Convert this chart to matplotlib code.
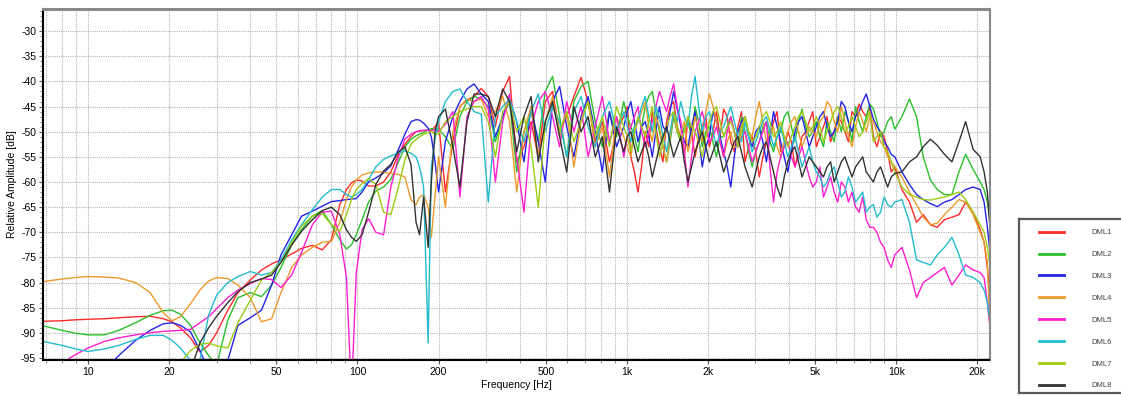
import numpy as np
import matplotlib
matplotlib.use("Agg")
from matplotlib import pyplot as plt

plt.rcParams['font.family'] = ['Liberation Sans', 'DejaVu Sans']

# frequency grid (Hz): low band, main band, top band
freq_low = [6.8, 8, 9, 10, 11.5, 13, 15, 17, 19, 20.5, 22, 24, 26, 28, 30, 33, 36, 40, 44, 48,
            52, 57, 62, 68, 74, 80, 86, 91, 95, 99, 104, 110, 117, 125, 133, 142, 150, 158, 165, 170,
            176, 183, 188, 194]
freq_mid = [200, 212, 226, 240, 255, 271, 288, 306, 325, 346,
            367, 390, 415, 441, 469, 498, 530, 563, 598, 636,
            676, 718, 763, 811, 862, 916, 974, 1035, 1100, 1170,
            1243, 1321, 1404, 1492, 1586, 1686, 1792, 1905, 2025, 2152,
            2287, 2431, 2584, 2746, 2919, 3102, 3297, 3504, 3725, 3959,
            4208, 4472, 4753, 5052, 5370, 5707, 6066, 6447, 6853, 7284,
            7741, 8228, 8745, 9295, 9880]
freq_high = [10500, 11200, 11900, 12600, 13400, 14200, 15100, 16100, 17100, 18100,
             19300, 20500, 21200, 21800, 22200]
# extra points in between, 1 kHz - 10 kHz
freq_fill = [1004, 1067, 1134, 1206, 1281, 1362, 1447, 1538, 1635, 1738,
             1848, 1964, 2088, 2218, 2358, 2506, 2664, 2831, 3009, 3198,
             3399, 3613, 3840, 4082, 4338, 4610, 4900, 5208, 5536, 5884,
             6254, 6647, 7065, 7509, 7981, 8483, 9016, 9583]
freqs = freq_low + freq_mid + freq_high + freq_fill

labels = ['DML1', 'DML2', 'DML3', 'DML4', 'DML5', 'DML6', 'DML7', 'DML8']
colors = ['#ff2a2a', '#2cbf2c', '#2424e8', '#eb9a2c', '#ff1ed2', '#22bccc', '#9ccc14', '#333333']

# relative amplitude (dB)
dml1 = ([-87.7, -87.6, -87.4, -87.3, -87.2, -87.0, -86.8, -86.7, -87.2, -87.8,
         -89.0, -91.0, -93.8, -92.5, -90.0, -85.5, -82.0, -79.5, -77.5, -76.3,
         -75.5, -74.3, -73.2, -72.6, -73.5, -71.5, -64.5, -61.5, -60.2, -59.6,
         -59.8, -60.8, -60.8, -60.0, -58.0, -54.5, -52.5, -51.0, -50.0, -49.9,
         -49.8, -49.7, -49.7, -49.0] +
        [-48.0, -62.0, -52.0, -45.0, -43.7, -43.0, -41.4, -43.0, -49.0, -42.0,
         -39.0, -56.0, -53.0, -48.0, -55.0, -44.0, -42.0, -50.0, -47.0, -43.0,
         -39.2, -44.0, -52.0, -48.0, -56.0, -50.0, -47.0, -55.0, -62.0, -50.0,
         -46.0, -53.0, -48.0, -44.0, -51.0, -47.0, -55.0, -49.0, -53.0, -46.0,
         -45.5, -52.0, -49.0, -56.0, -51.0, -59.0, -52.0, -48.0, -54.0, -50.0,
         -57.0, -51.0, -48.0, -53.0, -49.0, -52.0, -47.0, -50.0, -46.0, -44.5,
         -47.0, -51.0, -50.0, -54.0, -57.0] +
        [-61.5, -64.0, -68.0, -66.5, -68.5, -69.0, -67.5, -67.0, -66.5, -64.0,
         -66.0, -69.5, -72.0, -77.0, -82.0] +
        [-45.0, -58.0, -57.0, -53.0, -49.0, -56.0, -45.0, -49.0, -55.0, -50.0,
         -51.0, -47.0, -50.0, -51.0, -47.0, -54.0, -46.0, -53.0, -54.0, -55.0,
         -51.0, -46.0, -53.0, -52.0, -54.0, -50.0, -46.0, -51.0, -47.0, -50.0,
         -48.0, -52.0, -47.0, -46.0, -45.0, -53.0, -51.0, -58.0])
dml2 = ([-88.6, -89.5, -90.1, -90.4, -90.4, -89.5, -88.0, -86.5, -85.6, -85.5,
         -86.3, -88.5, -92.0, -94.5, -96.5, -87.5, -83.0, -82.0, -82.8, -80.5,
         -77.0, -72.5, -69.5, -66.8, -65.7, -68.5, -71.5, -73.3, -72.5, -70.5,
         -67.5, -64.0, -61.8, -61.0, -59.5, -56.0, -53.0, -51.5, -50.8, -50.5,
         -50.2, -49.6, -49.4, -49.5] +
        [-49.5, -51.0, -53.5, -47.0, -44.0, -43.0, -43.5, -45.0, -52.0, -47.0,
         -44.0, -58.0, -50.0, -46.0, -52.0, -42.0, -39.0, -47.0, -55.0, -44.0,
         -41.0, -40.0, -48.0, -53.0, -46.0, -51.0, -44.0, -49.0, -54.0, -45.0,
         -42.0, -50.0, -56.0, -47.0, -52.0, -48.0, -45.0, -53.0, -49.0, -55.0,
         -51.0, -47.0, -53.0, -50.0, -57.0, -52.0, -48.0, -54.0, -50.0, -46.0,
         -52.0, -45.5, -51.0, -48.0, -53.0, -50.0, -47.0, -46.0, -52.0, -48.0,
         -47.0, -45.5, -51.0, -48.0, -49.5] +
        [-47.0, -43.5, -47.0, -55.0, -59.6, -61.5, -62.5, -62.5, -58.0, -54.5,
         -57.5, -60.0, -61.5, -64.0, -67.0] +
        [-47.0, -51.0, -49.0, -43.0, -46.0, -53.0, -52.0, -50.0, -49.0, -51.0,
         -48.0, -50.0, -52.0, -51.0, -49.0, -50.0, -47.0, -54.0, -54.0, -49.0,
         -52.0, -51.0, -47.0, -49.0, -48.0, -49.0, -50.0, -51.0, -48.0, -52.0,
         -50.0, -48.0, -45.0, -50.0, -44.5, -48.0, -50.0, -47.0])
dml3 = ([-100.0, -100.0, -100.0, -100.0, -97.5, -94.5, -91.5, -89.5, -88.2, -88.0,
         -88.5, -89.8, -93.5, -97.5, -99.0, -95.5, -88.5, -87.0, -85.5, -80.5,
         -74.5, -70.5, -66.8, -65.8, -64.8, -63.9, -63.7, -63.5, -63.4, -63.3,
         -62.0, -60.0, -59.2, -58.2, -56.8, -53.5, -50.5, -48.0, -47.6, -47.7,
         -48.3, -49.3, -51.0, -56.0] +
        [-62.0, -52.0, -47.0, -44.0, -41.5, -40.5, -42.5, -44.0, -51.0, -47.0,
         -43.5, -48.0, -56.0, -45.0, -52.0, -60.0, -44.0, -41.0, -49.0, -55.0,
         -47.0, -43.0, -50.0, -58.0, -46.0, -53.0, -49.0, -44.0, -52.0, -48.0,
         -55.0, -45.0, -50.0, -42.0, -49.0, -53.0, -46.0, -57.0, -51.0, -48.0,
         -54.0, -61.0, -50.0, -47.0, -53.0, -49.0, -56.0, -46.0, -52.0, -58.0,
         -50.0, -47.0, -53.0, -49.0, -46.0, -51.0, -48.0, -45.0, -50.0, -46.0,
         -42.5, -47.5, -50.0, -53.0, -55.0] +
        [-58.0, -60.5, -62.5, -63.5, -64.3, -64.9, -64.0, -63.5, -62.5, -61.5,
         -61.0, -61.5, -64.0, -69.0, -73.0] +
        [-46.0, -48.0, -49.0, -51.0, -50.0, -49.0, -46.0, -45.5, -52.0, -49.0,
         -51.0, -53.0, -46.0, -51.0, -57.0, -55.0, -48.0, -51.0, -50.0, -52.0,
         -51.0, -49.0, -55.0, -54.0, -48.0, -50.0, -51.0, -47.0, -49.0, -50.0,
         -44.0, -48.0, -47.0, -44.0, -45.0, -49.0, -52.0, -54.5])
dml4 = ([-79.8, -79.3, -79.0, -78.8, -78.9, -79.1, -80.0, -82.0, -86.0, -87.6,
         -86.8, -84.2, -81.5, -79.7, -79.0, -79.2, -80.5, -83.0, -87.8, -87.2,
         -82.0, -77.0, -74.5, -73.0, -72.0, -71.8, -68.0, -63.5, -61.0, -59.6,
         -58.6, -58.2, -58.0, -58.1, -58.3, -58.5, -59.0, -63.5, -64.5, -63.0,
         -62.5, -65.0, -71.0, -63.0] +
        [-55.0, -65.0, -50.0, -45.0, -43.5, -44.0, -43.5, -47.0, -46.0, -43.0,
         -48.0, -62.0, -50.0, -45.0, -55.0, -48.0, -43.0, -51.0, -46.0, -57.0,
         -48.0, -44.0, -53.0, -49.0, -59.0, -47.0, -51.0, -55.0, -48.0, -44.0,
         -52.0, -49.0, -56.0, -46.0, -50.0, -54.0, -47.0, -52.0, -42.5, -48.0,
         -55.0, -50.0, -53.0, -47.0, -51.0, -44.0, -52.0, -49.0, -55.0, -50.0,
         -47.0, -53.0, -49.0, -51.0, -47.0, -45.0, -50.0, -48.0, -53.0, -46.0,
         -50.0, -48.0, -52.0, -55.0, -57.0] +
        [-59.0, -62.0, -64.5, -67.0, -68.5, -68.2, -66.5, -65.0, -63.5, -64.0,
         -66.5, -70.0, -72.0, -76.0, -87.0] +
        [-53.0, -50.0, -46.0, -49.0, -47.0, -53.0, -51.0, -50.0, -48.0, -51.0,
         -50.0, -46.0, -45.0, -52.0, -52.0, -53.0, -49.0, -50.0, -47.0, -48.0,
         -50.0, -53.0, -52.0, -48.0, -50.0, -51.0, -50.0, -48.0, -44.0, -48.0,
         -45.0, -51.0, -49.0, -48.0, -47.0, -50.0, -53.0, -56.0])
dml5 = ([-98.0, -96.0, -94.3, -93.0, -91.7, -91.0, -90.4, -90.0, -89.7, -89.6,
         -89.5, -89.3, -88.0, -86.8, -85.2, -83.0, -81.5, -80.2, -79.2, -79.4,
         -81.0, -78.5, -74.0, -68.5, -66.0, -65.8, -70.5, -79.0, -102.0, -78.0,
         -69.5, -67.3, -70.0, -70.5, -61.0, -55.0, -51.5, -50.5, -50.0, -49.8,
         -49.7, -49.7, -50.0, -49.5] +
        [-50.0, -48.5, -46.0, -63.0, -47.0, -44.0, -43.0, -45.5, -60.0, -48.0,
         -42.5, -55.0, -66.0, -49.0, -44.0, -42.0, -47.0, -53.0, -44.0, -50.0,
         -45.0, -55.0, -49.0, -43.0, -52.0, -47.0, -55.0, -49.0, -45.0, -53.0,
         -48.0, -42.0, -46.0, -40.5, -48.0, -61.0, -50.0, -46.0, -52.0, -49.0,
         -55.0, -47.0, -53.0, -50.0, -56.0, -52.0, -48.0, -64.0, -55.0, -52.0,
         -57.0, -53.0, -59.0, -60.0, -63.0, -59.0, -64.0, -61.0, -62.0, -66.0,
         -67.5, -69.0, -72.0, -75.5, -74.5] +
        [-73.0, -77.5, -83.0, -80.0, -79.0, -78.0, -77.0, -80.5, -78.5, -76.5,
         -77.5, -78.0, -79.0, -84.0, -88.0] +
        [-51.0, -47.0, -50.0, -50.0, -45.0, -44.0, -43.0, -45.0, -54.0, -55.0,
         -48.0, -49.0, -51.0, -52.0, -50.0, -50.0, -51.0, -53.0, -54.0, -50.0,
         -57.0, -58.0, -53.0, -55.0, -55.0, -56.0, -61.0, -57.0, -61.0, -62.0,
         -60.0, -64.0, -65.0, -63.0, -69.0, -70.0, -73.0, -77.0])
dml6 = ([-91.7, -92.5, -93.2, -93.7, -93.2, -92.5, -91.3, -90.5, -90.5, -91.5,
         -93.0, -95.5, -95.5, -86.5, -82.5, -80.0, -78.8, -77.8, -78.5, -78.0,
         -75.5, -71.5, -68.5, -65.5, -63.0, -61.5, -61.5, -62.5, -63.0, -62.5,
         -61.5, -59.5, -57.0, -55.5, -54.8, -54.2, -53.8, -54.3, -55.0, -57.0,
         -61.0, -92.0, -57.0, -51.5] +
        [-48.0, -44.0, -42.0, -41.5, -44.0, -46.0, -46.5, -64.0, -47.0, -45.0,
         -43.5, -48.0, -52.0, -46.0, -42.5, -50.0, -45.0, -48.0, -55.0, -46.0,
         -43.0, -49.0, -53.0, -47.0, -44.0, -50.0, -46.0, -52.0, -48.0, -43.0,
         -50.0, -47.0, -54.0, -46.0, -44.0, -49.0, -39.0, -50.0, -46.0, -53.0,
         -49.0, -45.0, -51.0, -48.0, -54.0, -50.0, -47.0, -53.0, -49.0, -55.0,
         -51.0, -57.0, -53.0, -58.0, -61.0, -58.0, -60.0, -62.0, -61.0, -63.0,
         -66.0, -64.5, -66.0, -64.5, -64.0] +
        [-63.5, -68.0, -75.5, -76.0, -76.5, -74.5, -73.0, -71.0, -74.5, -78.5,
         -79.0, -80.0, -81.5, -84.0, -87.0] +
        [-49.0, -49.0, -45.0, -47.0, -45.0, -51.0, -50.0, -48.0, -47.0, -43.0,
         -45.0, -47.0, -50.0, -50.0, -47.0, -48.0, -52.0, -51.0, -52.0, -48.0,
         -50.0, -51.0, -52.0, -53.0, -54.0, -55.0, -56.0, -59.0, -60.0, -57.0,
         -63.0, -59.0, -64.0, -62.0, -65.0, -67.0, -63.0, -65.0])
dml7 = ([-100.0, -100.0, -100.0, -100.0, -100.0, -100.0, -100.0, -100.0, -100.0, -99.0,
         -96.0, -93.5, -92.3, -92.0, -92.6, -93.0, -88.0, -83.5, -79.5, -78.0,
         -76.0, -72.0, -68.8, -66.8, -66.3, -68.5, -69.8, -66.5, -63.5, -61.5,
         -60.3, -59.3, -60.5, -66.0, -66.5, -61.0, -55.5, -52.5, -51.5, -51.0,
         -50.5, -50.2, -50.0, -50.5] +
        [-50.5, -48.0, -47.0, -46.0, -45.5, -45.0, -45.0, -48.0, -55.0, -46.0,
         -44.0, -50.0, -47.0, -53.0, -65.0, -48.0, -44.0, -50.0, -46.0, -52.0,
         -48.0, -44.0, -51.0, -47.0, -53.0, -45.0, -49.0, -54.0, -47.0, -51.0,
         -45.0, -55.0, -49.0, -46.0, -52.0, -47.0, -50.0, -55.0, -48.0, -45.0,
         -51.0, -48.0, -53.0, -47.0, -52.0, -49.0, -46.0, -51.0, -48.0, -53.0,
         -49.0, -46.0, -50.0, -47.0, -52.0, -48.0, -45.0, -50.0, -47.0, -51.0,
         -48.0, -52.0, -50.0, -54.0, -58.0] +
        [-61.0, -62.5, -63.0, -63.5, -63.6, -63.3, -63.0, -62.5, -62.0, -63.5,
         -66.0, -68.5, -70.0, -73.0, -76.0] +
        [-51.0, -50.0, -49.0, -48.0, -50.0, -52.0, -47.0, -49.0, -50.0, -49.0,
         -52.0, -51.0, -46.0, -48.0, -49.0, -50.0, -50.0, -50.0, -51.0, -47.0,
         -48.0, -50.0, -51.0, -51.0, -47.0, -48.0, -49.0, -49.0, -50.0, -46.0,
         -47.0, -49.0, -49.0, -50.0, -46.0, -51.0, -53.0, -56.0])
dml8 = ([-100.0, -100.0, -100.0, -100.0, -100.0, -100.0, -100.0, -100.0, -100.0, -100.0,
         -100.0, -97.5, -92.0, -89.0, -86.7, -84.0, -81.8, -80.0, -79.3, -78.5,
         -76.0, -72.5, -69.8, -67.5, -65.7, -65.0, -66.5, -69.5, -71.0, -71.8,
         -70.5, -66.0, -60.5, -57.8, -56.5, -54.0, -53.0, -56.5, -68.0, -70.5,
         -63.0, -73.0, -60.0, -50.0] +
        [-47.0, -45.5, -53.0, -61.0, -48.0, -42.5, -42.5, -43.0, -47.0, -41.5,
         -44.0, -54.0, -47.0, -43.0, -56.0, -48.0, -44.0, -51.0, -58.0, -45.0,
         -50.0, -47.0, -55.0, -51.0, -62.0, -49.0, -54.0, -50.0, -56.0, -52.0,
         -59.0, -53.0, -49.0, -55.0, -51.0, -60.0, -54.0, -50.0, -56.0, -52.0,
         -58.0, -54.0, -51.0, -57.0, -61.0, -55.0, -52.0, -58.0, -63.0, -56.0,
         -53.0, -59.0, -55.0, -57.0, -59.0, -56.0, -58.0, -55.0, -59.0, -56.0,
         -58.0, -60.0, -57.0, -61.0, -58.3] +
        [-58.0, -56.0, -55.0, -53.0, -51.5, -52.7, -54.5, -56.0, -52.0, -48.0,
         -53.5, -55.0, -58.0, -62.0, -68.0] +
        [-51.0, -53.0, -54.0, -55.0, -56.0, -51.0, -52.0, -53.0, -56.0, -57.0,
         -52.0, -53.0, -54.0, -55.0, -56.0, -52.0, -54.0, -59.0, -58.0, -53.0,
         -55.0, -61.0, -59.0, -54.0, -56.0, -57.0, -56.0, -58.0, -57.0, -60.0,
         -56.0, -57.0, -57.0, -55.0, -59.0, -58.0, -59.0, -59.0])

series = [dml1, dml2, dml3, dml4, dml5, dml6, dml7, dml8]

W, H = 1121, 396
fig = plt.figure(figsize=(W / 100, H / 100), dpi=100)
ax = fig.add_axes([43 / W, 36 / H, (989.5 - 43) / W, (360 - 9) / H])

f_all = np.array(freqs)
order = np.argsort(f_all)
lines = []
for vals, col, lab in zip(series, colors, labels):
    v = np.array(vals)
    ln, = ax.plot(f_all[order], v[order], color=col, lw=1.0, label=lab)
    lines.append(ln)

ax.set_xscale('log')
ax.set_xlim(6.8, 22200)
ax.set_ylim(-95.4, -25.6)

major_x = [10, 20, 50, 100, 200, 500, 1000, 2000, 5000, 10000, 20000]
ax.set_xticks(major_x, ['10', '20', '50', '100', '200', '500', '1k', '2k', '5k', '10k', '20k'])
minor_x = [m * 10 ** d for d in range(0, 5) for m in range(2, 10)]
minor_x = [v for v in minor_x if 6.8 < v < 22200 and v not in major_x]
ax.set_xticks(minor_x, minor=True)
ax.set_xticklabels([], minor=True)

yt = np.arange(-95, -29, 5)
ax.set_yticks(yt, [f'{v}' for v in yt])
ax.set_yticks(np.arange(-95, -25, 1), minor=True)

ax.tick_params(axis='both', which='major', labelsize=7.5, length=3, color='#555555', pad=2)
ax.tick_params(axis='both', which='minor', length=2, color='#777777')

ax.grid(True, which='major', color='#b4b4b4', ls=(0, (1, 1)), lw=0.8)
ax.grid(True, which='minor', axis='x', color='#b4b4b4', ls=(0, (1, 1)), lw=0.8)
ax.set_axisbelow(True)

for s in ['left', 'bottom']:
    ax.spines[s].set_color('black')
    ax.spines[s].set_linewidth(1.5)
ax.spines['top'].set_color('#8a8a8a')
ax.spines['top'].set_linewidth(2.2)
ax.spines['right'].set_color('#8a8a8a')
ax.spines['right'].set_linewidth(1.5)

ax.set_xlabel('Frequency [Hz]', fontsize=7.5)
ax.xaxis.set_label_coords(0.5, -0.058)
ax.set_ylabel('Relative Amplitude [dB]', fontsize=7.5)
ax.yaxis.set_label_coords(-0.027, 0.5)

# legend box, cut by the right edge of the picture
lax = fig.add_axes([1019 / W, 3.5 / H, 0.2, 174 / H])
lax.set_xticks([])
lax.set_yticks([])
for s in lax.spines.values():
    s.set_color('#5a5a5a')
    s.set_linewidth(1.6)
leg = lax.legend(handles=lines, labels=labels, loc='upper left',
                 bbox_to_anchor=(1039 / W, (H - 229) / H), bbox_transform=fig.transFigure,
                 frameon=False, fontsize=5.5, handlelength=3.3, handletextpad=3.6,
                 labelspacing=1.9, borderpad=0, borderaxespad=0)
for h in leg.get_lines():
    h.set_linewidth(2.0)
for t in leg.get_texts():
    t.set_color('#444444')

fig.savefig('out.png', dpi=100)
